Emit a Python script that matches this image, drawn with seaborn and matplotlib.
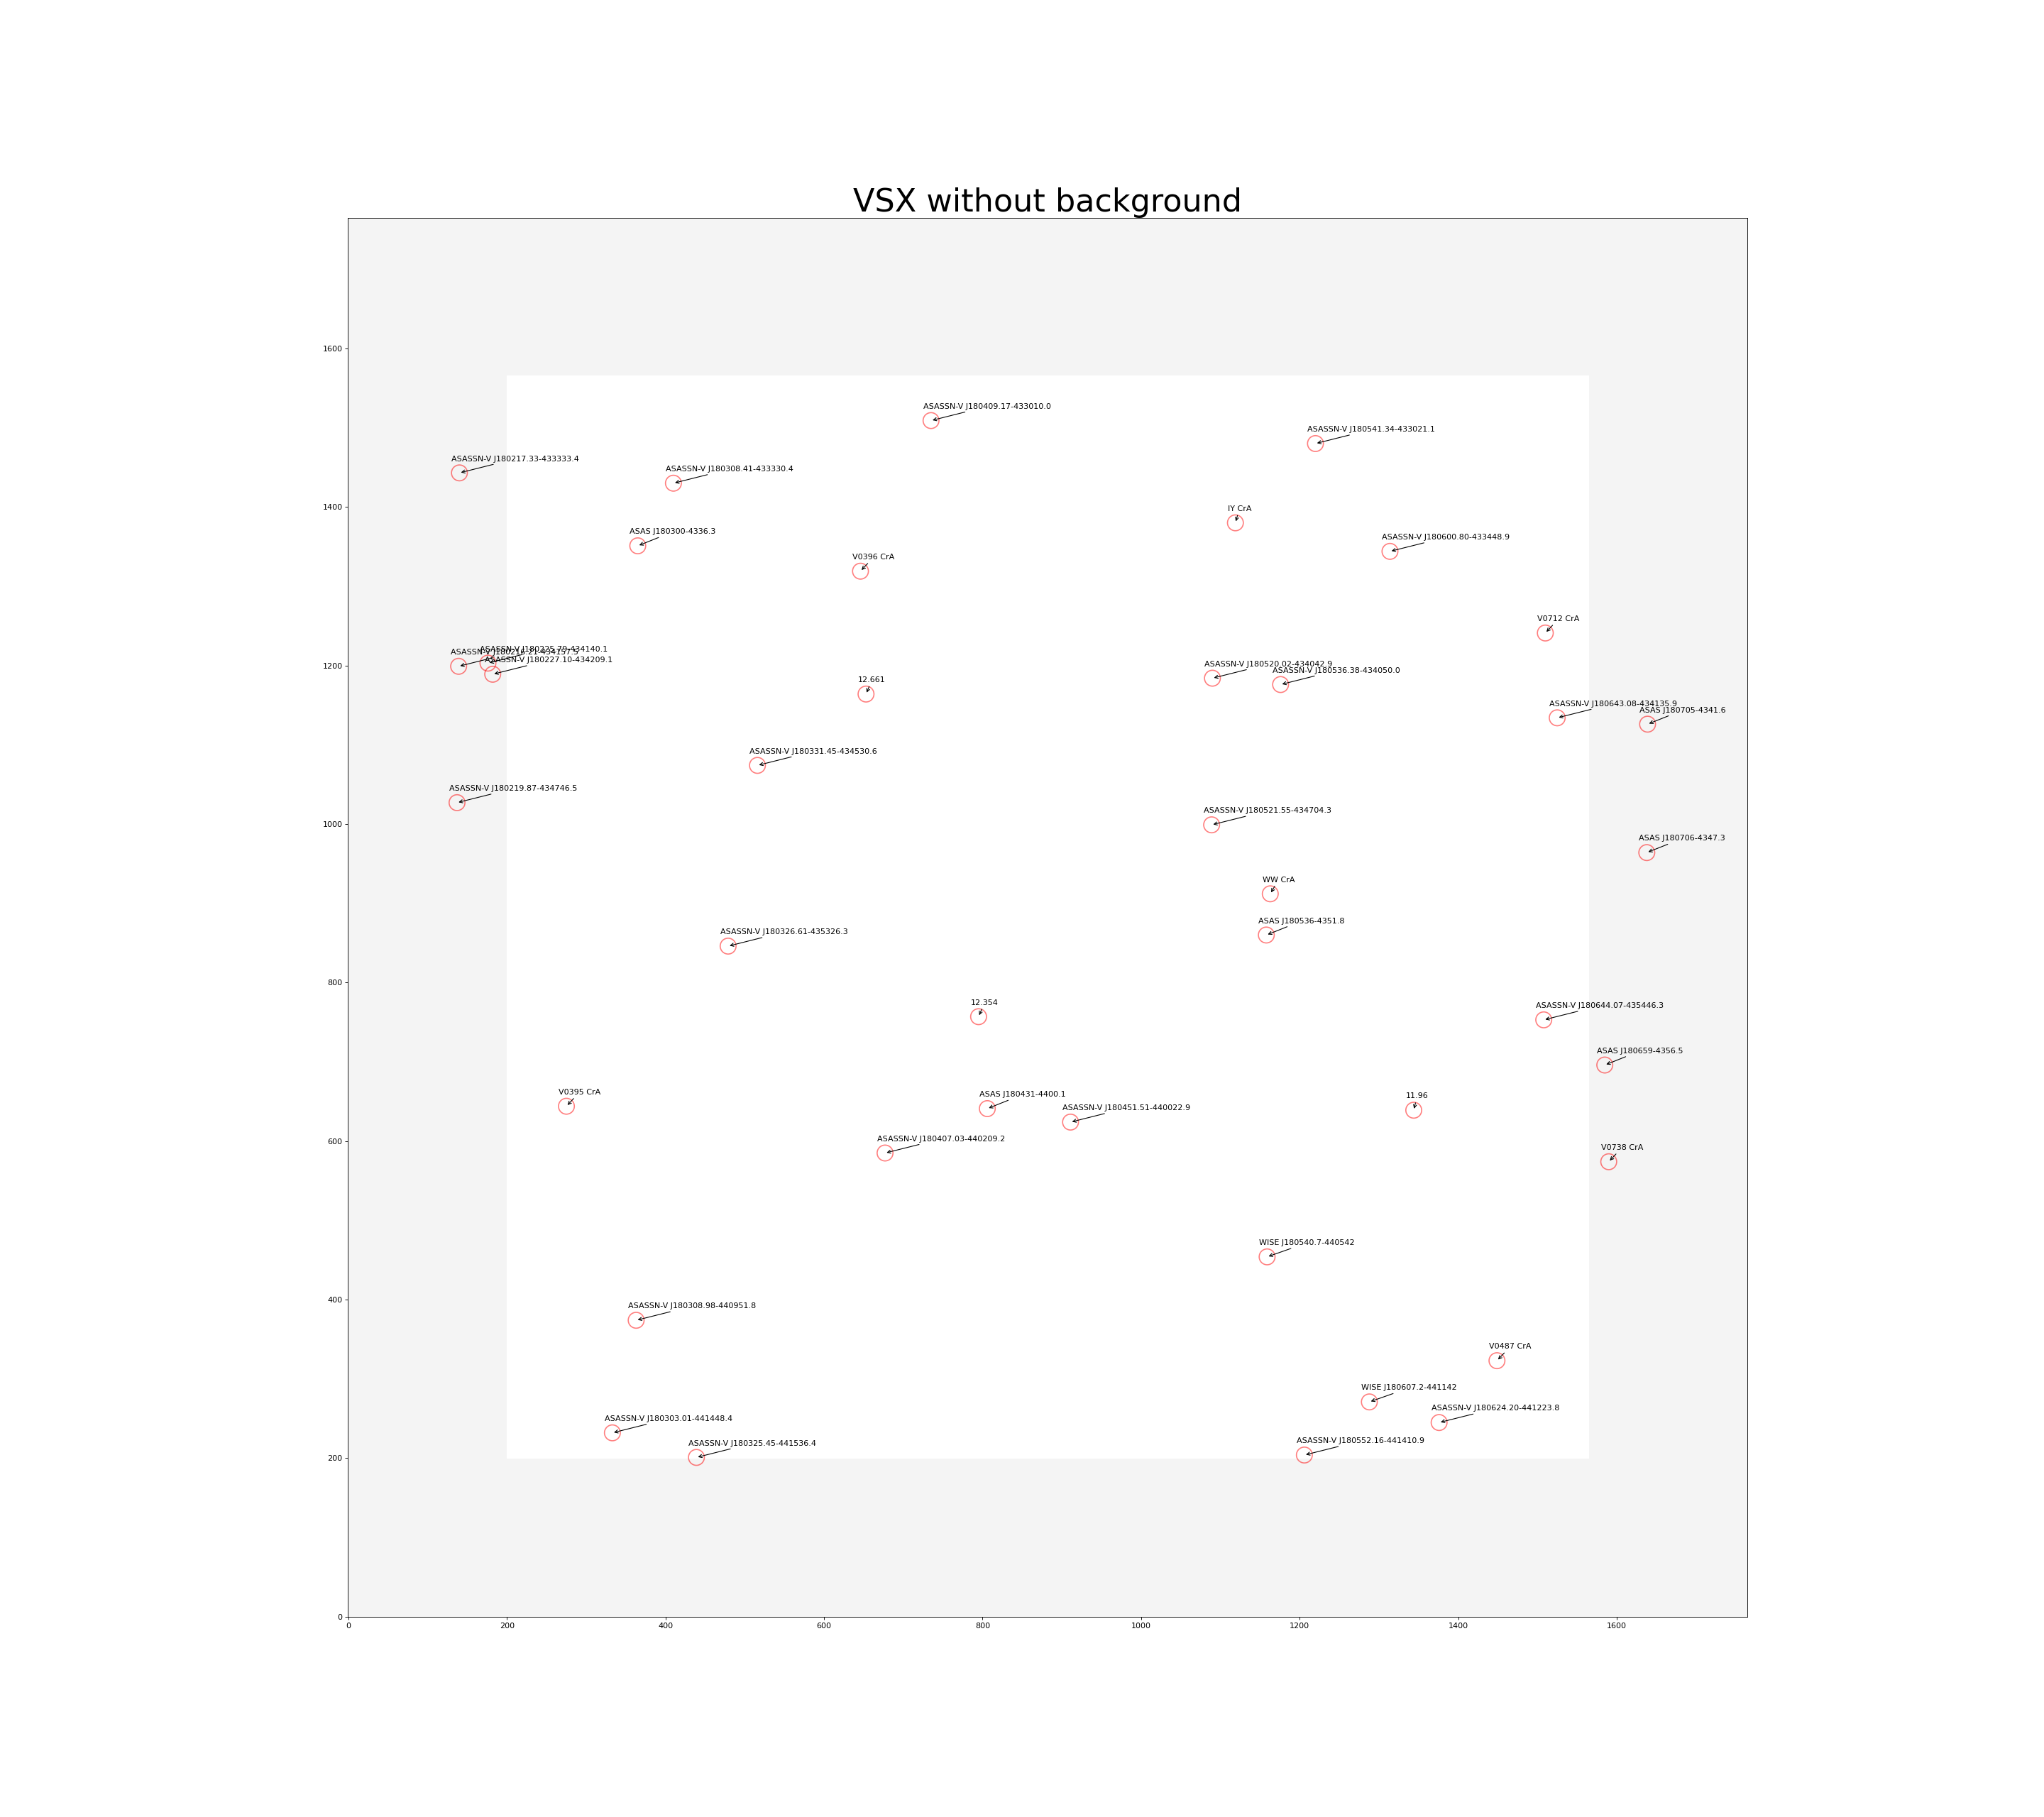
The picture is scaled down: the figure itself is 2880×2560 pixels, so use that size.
import matplotlib
matplotlib.use('Agg')
import matplotlib.pyplot as plt
from matplotlib.patches import Rectangle
import seaborn as sns

names = [
    'ASASSN-V J180409.17-433010.0', 'ASASSN-V J180541.34-433021.1', 'ASASSN-V J180217.33-433333.4',
    'ASASSN-V J180308.41-433330.4', 'IY CrA', 'ASAS J180300-4336.3', 'ASASSN-V J180600.80-433448.9',
    'V0396 CrA', 'V0712 CrA', 'ASASSN-V J180216.21-434157.5', 'ASASSN-V J180225.79-434140.1',
    'ASASSN-V J180227.10-434209.1', '12.661', 'ASASSN-V J180520.02-434042.9',
    'ASASSN-V J180536.38-434050.0', 'ASASSN-V J180643.08-434135.9', 'ASAS J180705-4341.6',
    'ASASSN-V J180331.45-434530.6', 'ASASSN-V J180219.87-434746.5', 'ASASSN-V J180521.55-434704.3',
    'ASAS J180706-4347.3', 'WW CrA', 'ASAS J180536-4351.8', 'ASASSN-V J180326.61-435326.3',
    '12.354', 'ASASSN-V J180644.07-435446.3', 'ASAS J180659-4356.5', 'ASAS J180431-4400.1',
    'V0395 CrA', '11.96', 'ASASSN-V J180451.51-440022.9', 'ASASSN-V J180407.03-440209.2',
    'V0738 CrA', 'WISE J180540.7-440542', 'ASASSN-V J180308.98-440951.8', 'V0487 CrA',
    'WISE J180607.2-441142', 'ASASSN-V J180624.20-441223.8', 'ASASSN-V J180303.01-441448.4',
    'ASASSN-V J180325.45-441536.4', 'ASASSN-V J180552.16-441410.9',
]
star_x = [735, 1220, 140, 410, 1119, 365, 1314, 646, 1510, 139, 176, 182, 653, 1090, 1176, 1525, 1639,
          516, 137, 1089, 1638, 1163, 1158, 479, 795, 1508, 1585, 806, 275, 1344, 911, 677, 1590,
          1159, 363, 1449, 1288, 1376, 333, 439, 1206]
star_y = [1509, 1480, 1443, 1430, 1380, 1351, 1344, 1319, 1241, 1199, 1203, 1189, 1164, 1184, 1176, 1134, 1126,
          1074, 1027, 999, 964, 912, 860, 846, 757, 753, 696, 641, 644, 639, 624, 585, 574,
          454, 374, 323, 271, 245, 232, 201, 204]

fig = plt.figure(figsize=(36, 32), dpi=80)
ax = fig.add_subplot(111)
ax.set_facecolor('#f4f4f4')
ax.add_patch(Rectangle((199.5, 199.5), 1366, 1366, facecolor='white', edgecolor='none', zorder=0))

sns.scatterplot(x=star_x, y=star_y, s=404, marker='o', facecolors='none', edgecolor='red',
                alpha=0.5, linewidth=1.5, ax=ax, zorder=2)

for name, x, y in zip(names, star_x, star_y):
    ax.annotate(name, xy=(x, y), xytext=(x - 10, y + 15), arrowprops=dict(arrowstyle='->'))

ax.set_xlim(-0.5, 1764.5)
ax.set_ylim(-0.5, 1764.5)
ax.set_aspect('equal')
ax.set_title('VSX without background', fontsize=40)
fig.savefig('out.png', dpi=80)
